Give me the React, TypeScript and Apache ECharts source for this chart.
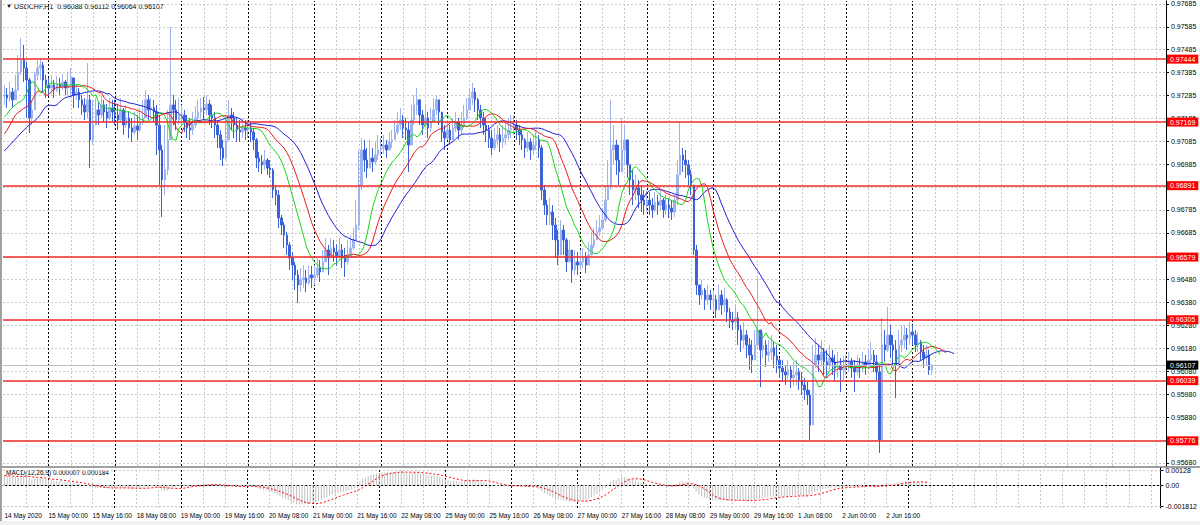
import React, { useEffect, useRef } from 'react';
import * as echarts from 'echarts';

const SYMBOL_TITLE = 'USDCHF,H1  0.96088 0.96112 0.96064 0.96107';
const MACD_TITLE = 'MACD(12,26,9) 0.000007 0.000184';

const N_SLOTS = 420;

const TIME_LABELS = [
  '14 May 2020', '15 May 00:00', '15 May 16:00', '18 May 08:00', '19 May 00:00', '19 May 16:00',
  '20 May 08:00', '21 May 00:00', '21 May 16:00', '22 May 08:00', '25 May 00:00', '25 May 16:00',
  '26 May 08:00', '27 May 00:00', '27 May 16:00', '28 May 08:00', '29 May 00:00', '29 May 16:00',
  '1 Jun 08:00', '2 Jun 00:00', '2 Jun 16:00',
];
const DAY_STARTS = [16, 40, 64, 88, 112, 136, 160, 184, 208, 232, 256, 280, 304, 328];

const PRICE_TICKS = [
  0.95680, 0.95780, 0.95880, 0.95980, 0.96080, 0.96180, 0.96280, 0.96380, 0.96480, 0.96580,
  0.96685, 0.96785, 0.96885, 0.96985, 0.97085, 0.97185, 0.97285, 0.97385, 0.97485, 0.97585, 0.97685,
];
const RED_LEVELS = [0.97444, 0.97169, 0.96891, 0.96579, 0.96305, 0.96039, 0.95776];
const BID = 0.96107;

const MACD_TICKS = [0.00128, 0, -0.001812];
const MACD_TICK_LABELS = ['0.00128', '0.00', '-0.001812'];

const FIRST_OPEN = 0.97283;

const CLOSE = [
  // 14 May 08:00-23:00
  0.97287, 0.97274, 0.97300, 0.97266, 0.97309, 0.97388, 0.97440, 0.97405, 0.97353, 0.97187, 0.97222, 0.97375, 0.97405, 0.97418, 0.97353, 0.97331,
  // 15 May
  0.97318, 0.97331, 0.97309, 0.97335, 0.97322, 0.97344, 0.97318, 0.97327, 0.97362, 0.97287, 0.97300, 0.97266, 0.97244, 0.97213, 0.97266, 0.97091, 0.97156, 0.97222, 0.97200, 0.97244, 0.97213, 0.97187, 0.97231, 0.97213,
  // 18 May
  0.97200, 0.97178, 0.97222, 0.97156, 0.97187, 0.97143, 0.97125, 0.97152, 0.97134, 0.97169, 0.97187, 0.97266, 0.97222, 0.97231, 0.97213, 0.97156, 0.97047, 0.96916, 0.96960, 0.97091, 0.97244, 0.97222, 0.97178, 0.97200,
  // 19 May
  0.97200, 0.97169, 0.97143, 0.97134, 0.97156, 0.97187, 0.97213, 0.97231, 0.97222, 0.97248, 0.97200, 0.97187, 0.97156, 0.97113, 0.97056, 0.97012, 0.97091, 0.97200, 0.97187, 0.97156, 0.97134, 0.97125, 0.97143, 0.97134,
  // 20 May
  0.97143, 0.97125, 0.97091, 0.97012, 0.96995, 0.96982, 0.97003, 0.96968, 0.96960, 0.96872, 0.96850, 0.96750, 0.96719, 0.96675, 0.96632, 0.96575, 0.96544, 0.96501, 0.96457, 0.96479, 0.96488, 0.96466, 0.96501, 0.96488,
  // 21 May
  0.96501, 0.96531, 0.96514, 0.96558, 0.96610, 0.96575, 0.96619, 0.96601, 0.96584, 0.96610, 0.96575, 0.96558, 0.96588, 0.96619, 0.96654, 0.96719, 0.96894, 0.97047, 0.97003, 0.96968, 0.97012, 0.96995, 0.97025, 0.97047,
  // 22 May
  0.97056, 0.97069, 0.97047, 0.97082, 0.97091, 0.97125, 0.97156, 0.97178, 0.97143, 0.97134, 0.97069, 0.97178, 0.97244, 0.97266, 0.97200, 0.97156, 0.97187, 0.97143, 0.97169, 0.97222, 0.97266, 0.97213, 0.97125, 0.97099,
  // 25 May
  0.97134, 0.97091, 0.97143, 0.97169, 0.97134, 0.97156, 0.97187, 0.97222, 0.97274, 0.97300, 0.97266, 0.97222, 0.97187, 0.97156, 0.97134, 0.97099, 0.97056, 0.97091, 0.97113, 0.97082, 0.97099, 0.97113, 0.97134, 0.97143,
  // 26 May
  0.97156, 0.97134, 0.97113, 0.97091, 0.97056, 0.97082, 0.97047, 0.97069, 0.97091, 0.97056, 0.96872, 0.96806, 0.96763, 0.96776, 0.96719, 0.96654, 0.96588, 0.96697, 0.96654, 0.96558, 0.96610, 0.96523, 0.96558, 0.96544,
  // 27 May
  0.96558, 0.96575, 0.96544, 0.96588, 0.96632, 0.96654, 0.96689, 0.96706, 0.96741, 0.96828, 0.96894, 0.97047, 0.97069, 0.97003, 0.96951, 0.97047, 0.97091, 0.96982, 0.96916, 0.96872, 0.96881, 0.96850, 0.96828, 0.96806,
  // 28 May
  0.96828, 0.96806, 0.96785, 0.96820, 0.96806, 0.96828, 0.96785, 0.96806, 0.96793, 0.96776, 0.96828, 0.96938, 0.97025, 0.97003, 0.96982, 0.96938, 0.96894, 0.96610, 0.96457, 0.96413, 0.96435, 0.96392, 0.96413, 0.96392,
  // 29 May
  0.96392, 0.96348, 0.96413, 0.96370, 0.96392, 0.96339, 0.96304, 0.96295, 0.96313, 0.96260, 0.96216, 0.96238, 0.96195, 0.96151, 0.96129, 0.96195, 0.96260, 0.96173, 0.96195, 0.96151, 0.96164, 0.96182, 0.96147, 0.96129,
  // 1 Jun
  0.96094, 0.96077, 0.96064, 0.96086, 0.96051, 0.96064, 0.96077, 0.96042, 0.96020, 0.95998, 0.95976, 0.95845, 0.96107, 0.96151, 0.96129, 0.96164, 0.96121, 0.96107, 0.96138, 0.96121, 0.96094, 0.96107, 0.96086, 0.96094,
  // 2 Jun
  0.96107, 0.96121, 0.96094, 0.96077, 0.96107, 0.96094, 0.96121, 0.96107, 0.96129, 0.96151, 0.96121, 0.96077, 0.95780, 0.96195, 0.96173, 0.96238, 0.96195, 0.96173, 0.96107, 0.96195, 0.96216, 0.96238, 0.96225, 0.96252,
  // 3 Jun 00:00-07:00
  0.96238, 0.96195, 0.96208, 0.96164, 0.96138, 0.96151, 0.96086, 0.96107,
];

const HIGH = [
  0.97331, 0.97318, 0.97344, 0.97318, 0.97375, 0.97462, 0.97536, 0.97506, 0.97432, 0.97362, 0.97266, 0.97388, 0.97440, 0.97449, 0.97432, 0.97375,
  0.97362, 0.97375, 0.97353, 0.97370, 0.97362, 0.97379, 0.97353, 0.97388, 0.97405, 0.97353, 0.97335, 0.97318, 0.97287, 0.97274, 0.97427, 0.97287, 0.97266, 0.97274, 0.97257, 0.97283, 0.97266, 0.97248, 0.97274, 0.97266,
  0.97266, 0.97244, 0.97274, 0.97231, 0.97244, 0.97213, 0.97187, 0.97213, 0.97200, 0.97231, 0.97266, 0.97309, 0.97287, 0.97274, 0.97266, 0.97244, 0.97200, 0.97069, 0.97156, 0.97222, 0.97584, 0.97287, 0.97266, 0.97274,
  0.97244, 0.97222, 0.97200, 0.97187, 0.97213, 0.97239, 0.97266, 0.97274, 0.97279, 0.97287, 0.97266, 0.97244, 0.97213, 0.97178, 0.97134, 0.97091, 0.97200, 0.97266, 0.97231, 0.97213, 0.97187, 0.97178, 0.97187, 0.97178,
  0.97178, 0.97169, 0.97143, 0.97099, 0.97038, 0.97025, 0.97047, 0.97012, 0.97003, 0.96968, 0.96894, 0.96872, 0.96763, 0.96732, 0.96689, 0.96645, 0.96601, 0.96558, 0.96523, 0.96531, 0.96544, 0.96523, 0.96544, 0.96540,
  0.96544, 0.96575, 0.96566, 0.96610, 0.96662, 0.96632, 0.96662, 0.96654, 0.96636, 0.96662, 0.96636, 0.96619, 0.96654, 0.96675, 0.96706, 0.96828, 0.97047, 0.97099, 0.97091, 0.97056, 0.97091, 0.97056, 0.97082, 0.97113,
  0.97099, 0.97113, 0.97091, 0.97125, 0.97134, 0.97178, 0.97213, 0.97231, 0.97200, 0.97187, 0.97169, 0.97244, 0.97287, 0.97318, 0.97266, 0.97222, 0.97244, 0.97213, 0.97231, 0.97274, 0.97287, 0.97266, 0.97187, 0.97156,
  0.97178, 0.97156, 0.97187, 0.97213, 0.97187, 0.97213, 0.97244, 0.97274, 0.97318, 0.97340, 0.97318, 0.97274, 0.97244, 0.97213, 0.97187, 0.97156, 0.97134, 0.97143, 0.97156, 0.97143, 0.97156, 0.97169, 0.97187, 0.97200,
  0.97200, 0.97178, 0.97156, 0.97134, 0.97099, 0.97125, 0.97099, 0.97113, 0.97134, 0.97113, 0.97069, 0.96894, 0.96828, 0.96837, 0.96806, 0.96750, 0.96697, 0.96741, 0.96719, 0.96662, 0.96654, 0.96610, 0.96610, 0.96601,
  0.96610, 0.96619, 0.96601, 0.96645, 0.96689, 0.96706, 0.96741, 0.96763, 0.96793, 0.96894, 0.97003, 0.97266, 0.97156, 0.97091, 0.97069, 0.97187, 0.97156, 0.97091, 0.96982, 0.96960, 0.96938, 0.96916, 0.96894, 0.96872,
  0.96872, 0.96863, 0.96837, 0.96863, 0.96850, 0.96872, 0.96837, 0.96850, 0.96837, 0.96828, 0.96850, 0.97003, 0.97169, 0.97056, 0.97047, 0.97003, 0.96960, 0.96894, 0.96632, 0.96457, 0.96479, 0.96444, 0.96457, 0.96435,
  0.96435, 0.96413, 0.96457, 0.96435, 0.96444, 0.96400, 0.96357, 0.96339, 0.96370, 0.96339, 0.96282, 0.96295, 0.96260, 0.96225, 0.96216, 0.96260, 0.96488, 0.96238, 0.96252, 0.96216, 0.96216, 0.96238, 0.96208, 0.96195,
  0.96138, 0.96129, 0.96107, 0.96129, 0.96107, 0.96121, 0.96129, 0.96094, 0.96077, 0.96051, 0.96033, 0.95998, 0.96195, 0.96225, 0.96195, 0.96216, 0.96182, 0.96173, 0.96195, 0.96173, 0.96151, 0.96164, 0.96138, 0.96147,
  0.96151, 0.96164, 0.96138, 0.96129, 0.96151, 0.96138, 0.96164, 0.96151, 0.96173, 0.96208, 0.96173, 0.96151, 0.96107, 0.96313, 0.96260, 0.96361, 0.96282, 0.96238, 0.96216, 0.96260, 0.96282, 0.96282, 0.96269, 0.96295,
  0.96282, 0.96260, 0.96252, 0.96216, 0.96195, 0.96195, 0.96173, 0.96112,
];

const LOW = [
  0.97244, 0.97231, 0.97257, 0.97231, 0.97266, 0.97309, 0.97375, 0.97344, 0.97187, 0.97121, 0.97156, 0.97222, 0.97353, 0.97353, 0.97300, 0.97274,
  0.97283, 0.97292, 0.97274, 0.97300, 0.97287, 0.97309, 0.97287, 0.97287, 0.97274, 0.97231, 0.97266, 0.97231, 0.97200, 0.97178, 0.97187, 0.96968, 0.97069, 0.97169, 0.97156, 0.97187, 0.97169, 0.97143, 0.97178, 0.97169,
  0.97156, 0.97134, 0.97169, 0.97113, 0.97143, 0.97099, 0.97082, 0.97113, 0.97091, 0.97125, 0.97156, 0.97213, 0.97178, 0.97187, 0.97169, 0.97025, 0.96894, 0.96754, 0.96850, 0.96938, 0.97091, 0.97156, 0.97134, 0.97156,
  0.97156, 0.97125, 0.97099, 0.97091, 0.97113, 0.97143, 0.97169, 0.97187, 0.97178, 0.97200, 0.97156, 0.97143, 0.97099, 0.97056, 0.97003, 0.96977, 0.97003, 0.97156, 0.97134, 0.97099, 0.97082, 0.97082, 0.97099, 0.97091,
  0.97099, 0.97082, 0.97047, 0.96968, 0.96951, 0.96942, 0.96960, 0.96938, 0.96925, 0.96837, 0.96806, 0.96706, 0.96675, 0.96619, 0.96588, 0.96523, 0.96479, 0.96435, 0.96378, 0.96426, 0.96444, 0.96426, 0.96457, 0.96444,
  0.96457, 0.96488, 0.96470, 0.96514, 0.96558, 0.96501, 0.96575, 0.96558, 0.96540, 0.96566, 0.96531, 0.96492, 0.96544, 0.96575, 0.96610, 0.96654, 0.96697, 0.96872, 0.96951, 0.96925, 0.96968, 0.96951, 0.96982, 0.97003,
  0.97021, 0.97030, 0.97012, 0.97047, 0.97056, 0.97091, 0.97113, 0.97134, 0.97099, 0.97091, 0.96951, 0.97069, 0.97156, 0.97200, 0.97156, 0.97113, 0.97143, 0.97099, 0.97125, 0.97178, 0.97200, 0.97156, 0.97082, 0.97047,
  0.97091, 0.97069, 0.97099, 0.97125, 0.97091, 0.97113, 0.97143, 0.97178, 0.97222, 0.97244, 0.97213, 0.97178, 0.97143, 0.97113, 0.97082, 0.97056, 0.97025, 0.97047, 0.97069, 0.97038, 0.97056, 0.97069, 0.97091, 0.97099,
  0.97113, 0.97091, 0.97069, 0.97047, 0.97012, 0.97038, 0.97003, 0.97025, 0.97047, 0.97012, 0.96828, 0.96763, 0.96719, 0.96719, 0.96654, 0.96575, 0.96544, 0.96632, 0.96588, 0.96514, 0.96558, 0.96466, 0.96501, 0.96501,
  0.96523, 0.96531, 0.96509, 0.96544, 0.96588, 0.96619, 0.96654, 0.96671, 0.96697, 0.96732, 0.96828, 0.96872, 0.96982, 0.96938, 0.96894, 0.96951, 0.96982, 0.96925, 0.96850, 0.96806, 0.96828, 0.96793, 0.96776, 0.96763,
  0.96776, 0.96763, 0.96750, 0.96776, 0.96763, 0.96785, 0.96750, 0.96763, 0.96750, 0.96741, 0.96754, 0.96806, 0.96960, 0.96951, 0.96925, 0.96894, 0.96850, 0.96588, 0.96413, 0.96370, 0.96392, 0.96348, 0.96370, 0.96348,
  0.96339, 0.96313, 0.96370, 0.96326, 0.96339, 0.96295, 0.96269, 0.96260, 0.96269, 0.96195, 0.96164, 0.96182, 0.96138, 0.96086, 0.96072, 0.96129, 0.96173, 0.96011, 0.96138, 0.96099, 0.96121, 0.96129, 0.96094, 0.96072,
  0.96051, 0.96033, 0.96020, 0.96042, 0.96007, 0.96016, 0.96020, 0.95998, 0.95976, 0.95955, 0.95933, 0.95780, 0.95955, 0.96094, 0.96077, 0.96107, 0.96064, 0.96051, 0.96086, 0.96064, 0.96042, 0.96051, 0.95989, 0.96042,
  0.96064, 0.96077, 0.96051, 0.95989, 0.96064, 0.96051, 0.96077, 0.96064, 0.96086, 0.96094, 0.96077, 0.96042, 0.95723, 0.95780, 0.96121, 0.96164, 0.96138, 0.96107, 0.95963, 0.96138, 0.96164, 0.96182, 0.96173, 0.96195,
  0.96195, 0.96164, 0.96164, 0.96129, 0.96094, 0.96107, 0.96064, 0.96064,
];

// Alligator values visible at the left edge (from history before the first bar)
const JAW_LEAD = [0.97043, 0.97056, 0.97069, 0.97082, 0.97095, 0.97108, 0.97121, 0.97134];
const TEETH_LEAD = [0.97117, 0.97134, 0.97156, 0.97178, 0.97200];
const LIPS_LEAD = [0.97191, 0.97204, 0.97222];
// MACD EMA states carried in from history before the first bar
const MACD_SEED_EMA12 = 0.97250;
const MACD_SEED_EMA26 = 0.97165;

const Y_MIN = 0.95666;
const Y_MAX = 0.97698;
const MACD_MIN = -0.00195;
const MACD_MAX = 0.00145;

const FONT = 'Liberation Sans, Arial, sans-serif';

function buildOption() {
  const cats = Array.from({ length: N_SLOTS }, (_, i) => String(i));
  const candles = CLOSE.map((c, i) => {
    const o = i === 0 ? FIRST_OPEN : CLOSE[i - 1];
    const hi = Math.max(HIGH[i], o, c);
    const lo = Math.min(LOW[i], o, c);
    return [o, c, lo, hi];
  });
  const median = candles.map((d) => (d[2] + d[3]) / 2);

  const smma = (lead: number[], period: number) => {
    const out: (number | null)[] = new Array(N_SLOTS).fill(null);
    lead.forEach((v, j) => (out[j] = v));
    let prev = lead[lead.length - 1];
    const shift = lead.length;
    median.forEach((m, i) => {
      prev = (prev * (period - 1) + m) / period;
      if (i + shift < N_SLOTS) out[i + shift] = prev;
    });
    return out;
  };
  const jaw = smma(JAW_LEAD, 13);
  const teeth = smma(TEETH_LEAD, 8);
  const lips = smma(LIPS_LEAD, 5);

  let e12 = MACD_SEED_EMA12;
  let e26 = MACD_SEED_EMA26;
  const macd: number[] = [];
  CLOSE.forEach((c) => {
    e12 = e12 + (2 / 13) * (c - e12);
    e26 = e26 + (2 / 27) * (c - e26);
    macd.push(e12 - e26);
  });
  const signal = macd.map((_, i) => {
    const s = macd.slice(Math.max(0, i - 8), i + 1);
    return s.reduce((a, b) => a + b, 0) / s.length;
  });

  const gridSlots: number[] = [];
  for (let i = 8; i < N_SLOTS; i += 8) if (!DAY_STARTS.includes(i)) gridSlots.push(i);

  const grayDash = { color: '#c8c8c8', type: [2, 2] as any, width: 1, opacity: 1 };
  const blackDash = { color: '#000000', type: [2, 2] as any, width: 1, opacity: 1 };

  const lineHost = (xi: number, data: any[], lineStyle: any, z: number, label: any = { show: false }) => ({
    type: 'line', xAxisIndex: xi, yAxisIndex: xi, data: [], silent: true,
    color: lineStyle.color,
    itemStyle: { color: lineStyle.color },
    lineStyle: { color: lineStyle.color },
    markLine: {
      silent: true, symbol: 'none', precision: 6, z, animation: false, label,
      lineStyle,
      emphasis: { disabled: true },
      data: data.map((d) => ({ ...d, lineStyle })),
    },
  });

  const levelLabel = (bg: string) => ({
    show: true,
    position: 'end',
    distance: 1,
    formatter: (p: any) => Number(p.value).toFixed(5),
    color: '#ffffff',
    backgroundColor: bg,
    fontSize: 7,
    fontFamily: FONT,
    padding: [1, 3, 1, 3],
  });

  const redStyle = { color: '#f52a2a', type: 'solid', width: 1.6, opacity: 1 };

  return {
    animation: false,
    backgroundColor: '#ffffff',
    textStyle: { fontFamily: FONT },
    grid: [
      { left: 3, top: 1, width: 1163, height: 465 },
      { left: 3, top: 468, width: 1163, height: 40 },
    ],
    xAxis: [
      {
        type: 'category', gridIndex: 0, data: cats, boundaryGap: true,
        axisLine: { show: false }, axisTick: { show: false }, axisLabel: { show: false }, splitLine: { show: false },
      },
      {
        type: 'category', gridIndex: 1, data: cats, boundaryGap: true,
        axisLine: { show: true, lineStyle: { color: '#000000', width: 1 } },
        axisTick: { show: false },
        axisLabel: {
          interval: (i: number) => i % 16 === 0 && i / 16 < TIME_LABELS.length,
          formatter: (_v: string, i: number) => TIME_LABELS[i / 16] ?? '',
          fontSize: 6.5, color: '#000000', align: 'left', margin: 4, fontFamily: FONT,
        },
        splitLine: { show: false },
      },
    ],
    yAxis: [
      {
        type: 'value', gridIndex: 0, position: 'right', min: Y_MIN, max: Y_MAX,
        axisLine: { show: true, lineStyle: { color: '#000000' } },
        axisTick: { show: true, length: 3, customValues: PRICE_TICKS, lineStyle: { color: '#000000' } },
        axisLabel: { customValues: PRICE_TICKS, formatter: (v: number) => v.toFixed(5), fontSize: 7, color: '#000000', margin: 5, fontFamily: FONT },
        splitLine: { show: false },
      },
      {
        type: 'value', gridIndex: 1, position: 'right', min: MACD_MIN, max: MACD_MAX,
        axisLine: { show: true, lineStyle: { color: '#000000' } },
        axisTick: { show: true, length: 3, customValues: MACD_TICKS, lineStyle: { color: '#000000' } },
        axisLabel: {
          customValues: MACD_TICKS,
          formatter: (v: number) => MACD_TICK_LABELS[MACD_TICKS.findIndex((t) => Math.abs(t - v) < 1e-9)] ?? '',
          fontSize: 7, color: '#000000', margin: 5, fontFamily: FONT,
        },
        splitLine: { show: false },
      },
    ],
    series: [
      lineHost(0, PRICE_TICKS.map((v) => ({ yAxis: v })), grayDash, 1),
      lineHost(0, gridSlots.map((i) => ({ xAxis: i })), grayDash, 1),
      lineHost(0, DAY_STARTS.map((i) => ({ xAxis: i })), blackDash, 1),
      lineHost(1, MACD_TICKS.map((v) => ({ yAxis: v })), grayDash, 1),
      lineHost(1, gridSlots.map((i) => ({ xAxis: i })), grayDash, 1),
      lineHost(1, DAY_STARTS.map((i) => ({ xAxis: i })), blackDash, 1),
      {
        type: 'candlestick', xAxisIndex: 0, yAxisIndex: 0, data: candles, barWidth: 2, z: 3,
        itemStyle: { color: '#9fb3ee', color0: '#3c62d8', borderColor: '#9fb3ee', borderColor0: '#3c62d8', borderWidth: 1 },
      },
      { type: 'line', xAxisIndex: 0, yAxisIndex: 0, data: jaw, symbol: 'none', z: 4, lineStyle: { color: '#1f1fd6', width: 1 } },
      { type: 'line', xAxisIndex: 0, yAxisIndex: 0, data: teeth, symbol: 'none', z: 4, lineStyle: { color: '#e81c1c', width: 1 } },
      { type: 'line', xAxisIndex: 0, yAxisIndex: 0, data: lips, symbol: 'none', z: 4, lineStyle: { color: '#16d616', width: 1 } },
      lineHost(0, [{ yAxis: BID }], { color: '#c0c0c0', type: 'solid', width: 1, opacity: 1 }, 6, levelLabel('#000000')),
      ...RED_LEVELS.map((v) => lineHost(0, [{ yAxis: v }], redStyle, 6, levelLabel('#ff0000'))),
      {
        type: 'bar', xAxisIndex: 1, yAxisIndex: 1, data: macd, barWidth: 1, z: 3,
        itemStyle: { color: '#c0c0c0' },
      },
      {
        type: 'line', xAxisIndex: 1, yAxisIndex: 1, data: signal, symbol: 'none', z: 4,
        lineStyle: { color: '#ff0000', width: 1, type: [2, 2] },
      },
    ],
    graphic: [
      { type: 'rect', left: 0, top: 0, shape: { width: 2, height: 525 }, style: { fill: '#a0a0a0' }, silent: true },
      { type: 'rect', left: 0, top: 466, shape: { width: 1200, height: 2 }, style: { fill: '#a0a0a0' }, silent: true },
      { type: 'rect', left: 0, top: 521, shape: { width: 1200, height: 4 }, style: { fill: '#f0f0f0' }, silent: true },
      { type: 'text', left: 6, top: 3, style: { text: '▼', fontSize: 6, fill: '#000000', fontFamily: FONT } },
      { type: 'text', left: 14, top: 3, style: { text: SYMBOL_TITLE, fontSize: 7, fill: '#000000', fontFamily: FONT } },
      { type: 'text', left: 6, top: 469, style: { text: MACD_TITLE, fontSize: 6.5, fill: '#000000', fontFamily: FONT } },
    ],
  };
}

export default function App() {
  const ref = useRef<HTMLDivElement>(null);
  useEffect(() => {
    document.body.style.margin = '0';
    const chart = echarts.init(ref.current!, null, { renderer: 'svg' });
    chart.setOption(buildOption() as any);
    return () => chart.dispose();
  }, []);
  return <div ref={ref} style={{ width: 1200, height: 525 }} />;
}
